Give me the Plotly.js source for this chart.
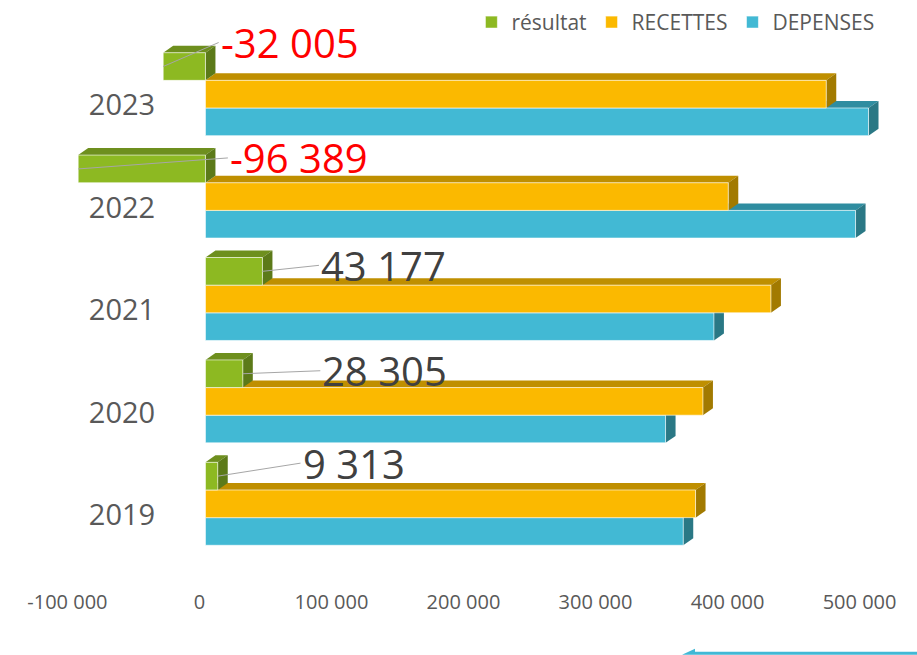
<!DOCTYPE html>
<html><head><meta charset="utf-8">
<script src="https://cdn.plot.ly/plotly-3.0.1.min.js"></script>
<style>html,body{margin:0;padding:0;background:#fff}#chart{width:917px;height:655px}</style>
</head><body><div id="chart"></div>
<script>
// ---- data ----
const years = ['2019', '2020', '2021', '2022', '2023'];
const recettes = [371200, 376800, 428300, 396000, 470200];
const depenses = [361887, 348495, 385123, 492389, 502205];
const resultat = [9313, 28305, 43177, -96389, -32005];
const xTickVals = [-100000, 0, 100000, 200000, 300000, 400000, 500000];
const seriesNames = ['DEPENSES', 'RECETTES', 'résultat'];

// ---- layout constants ----
const W = 917, H = 655;
const M = {l: 47, r: 25, t: 42, b: 100};
const XR = [-120000, 520000];
const YR = [-0.5, 4.5];
const plotW = W - M.l - M.r, plotH = H - M.t - M.b;
const BARGAP = 0.19;
const depth = {dx: 10, dy: 7};
const dxData = depth.dx * (XR[1] - XR[0]) / plotW;
const dyData = depth.dy * (YR[1] - YR[0]) / plotH;
const barW = (1 - BARGAP) / 3;
const labelAx = [72000, 87000, 86000, 17000, 10000];
const labelAy = [-13, -3, -6, -11, -24];

const colors = {
  'DEPENSES': {front: '#42B9D4', top: '#2F8DA0', side: '#2A7885'},
  'RECETTES': {front: '#FBB900', top: '#BF8F00', side: '#A27A00'},
  'résultat': {front: '#8DB922', top: '#6E8F1E', side: '#5C7A19'}
};
const seriesData = {'DEPENSES': depenses, 'RECETTES': recettes, 'résultat': resultat};
const yIdx = years.map((_, i) => i);

const FONT = '"Open Sans", "Noto Sans", sans-serif';

function fmt(v) {
  const s = Math.abs(v).toString().replace(/\B(?=(\d{3})+(?!\d))/g, ' ');
  return (v < 0 ? '-' : '') + s;
}

const traces = seriesNames.map(name => ({
  type: 'bar', orientation: 'h', name: name,
  y: yIdx, x: seriesData[name],
  marker: {color: colors[name].front, line: {color: 'rgba(255,255,255,0.6)', width: 1}},
  hovertemplate: '%{x}<extra>' + name + '</extra>'
}));

// 3D faces
const shapes = [];
seriesNames.forEach((name, k) => {
  const off = (k - 1) * barW;
  seriesData[name].forEach((v, i) => {
    const yc = i + off, yT = yc + barW / 2, yB = yc - barW / 2;
    const x0 = Math.min(0, v), x1 = Math.max(0, v);
    shapes.push({type: 'path', layer: 'below', xref: 'x', yref: 'y', line: {width: 0},
      fillcolor: colors[name].top,
      path: `M${x0},${yT} L${x1},${yT} L${x1 + dxData},${yT + dyData} L${x0 + dxData},${yT + dyData} Z`});
    shapes.push({type: 'path', layer: 'below', xref: 'x', yref: 'y', line: {width: 0},
      fillcolor: colors[name].side,
      path: `M${x1},${yT} L${x1 + dxData},${yT + dyData} L${x1 + dxData},${yB + dyData} L${x1},${yB} Z`});
  });
});
// bottom decoration
const px2x = p => (p - M.l) / plotW;
const px2y = p => (H - M.b - p) / plotH;
shapes.push({type: 'path', xref: 'paper', yref: 'paper', line: {width: 0}, fillcolor: '#41B8D5',
  path: `M${px2x(682)},${px2y(655)} L${px2x(695)},${px2y(649)} L${px2x(695)},${px2y(652)} L${px2x(917)},${px2y(652)} L${px2x(917)},${px2y(655)} Z`});

const annotations = resultat.map((v, i) => ({
  x: v, y: i + barW, xref: 'x', yref: 'y',
  text: fmt(v), showarrow: true, arrowhead: 0, arrowwidth: 1, arrowcolor: '#A6A6A6',
  axref: 'x', ax: labelAx[i], ay: labelAy[i], xanchor: 'left', yanchor: 'middle',
  standoff: 0, startstandoff: 0,
  font: {family: FONT, size: 40, color: v < 0 ? '#FF0000' : '#404040'}
}));

const layout = {
  width: W, height: H,
  margin: M,
  paper_bgcolor: '#fff', plot_bgcolor: 'rgba(0,0,0,0)',
  barmode: 'group', bargap: BARGAP, bargroupgap: 0,
  font: {family: FONT, color: '#595959'},
  showlegend: true,
  legend: {orientation: 'h', traceorder: 'reversed', xref: 'container', yref: 'container',
    x: 0.959, xanchor: 'right', y: 0.997, yanchor: 'top', font: {size: 21, color: '#595959'},
    bgcolor: 'rgba(0,0,0,0)'},
  xaxis: {range: XR, tickvals: xTickVals, ticktext: xTickVals.map(fmt), showgrid: false, zeroline: false,
    showline: false, ticks: '', ticklabelstandoff: 33, ticklabelshift: -6,
    tickfont: {size: 20, color: '#595959'}, fixedrange: true},
  yaxis: {range: YR, tickvals: yIdx, ticktext: years, anchor: 'free', position: 0.128,
    showgrid: false, zeroline: false, showline: false, ticks: '', ticklabelshift: 11,
    tickfont: {size: 29, color: '#595959'}, fixedrange: true},
  shapes: shapes,
  annotations: annotations
};

Plotly.newPlot('chart', traces, layout, {displayModeBar: false, staticPlot: true});
</script>
</body></html>
